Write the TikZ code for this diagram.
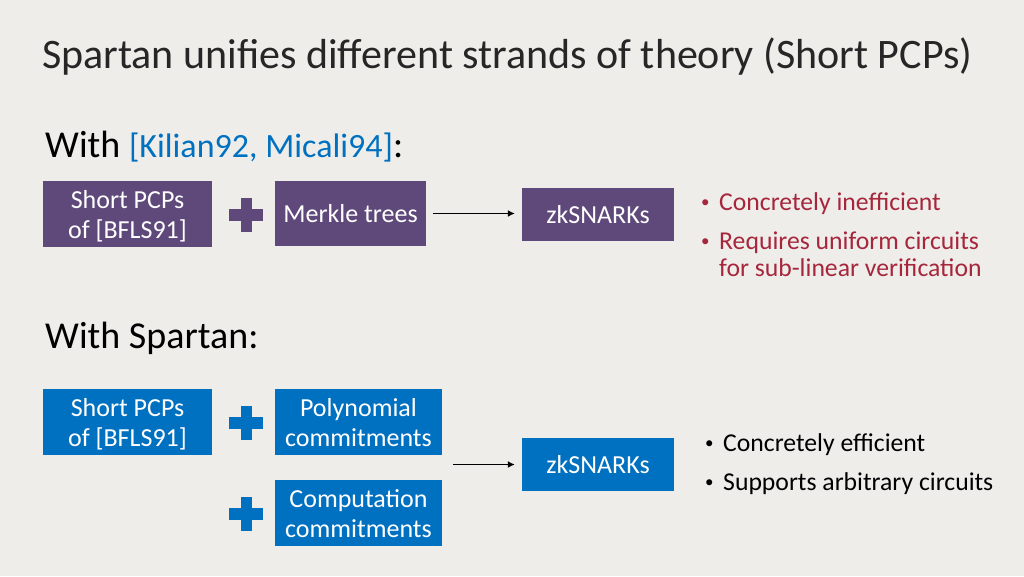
\documentclass[tikz,border=0pt]{standalone}
\usepackage{fontspec}
\setmainfont{Carlito}
\usetikzlibrary{arrows.meta}
\definecolor{bg}{HTML}{EFEDEA}
\definecolor{purp}{HTML}{5F497A}
\definecolor{blu}{HTML}{0070C0}
\definecolor{redt}{HTML}{A6263C}
\newcommand{\twoline}[2]{\raisebox{-3.5pt}[\height][\depth]{\begin{tabular}{@{}c@{}}#1\\#2\end{tabular}}}
\newcommand{\bulitem}[1]{\makebox[18pt][l]{\fontsize{17}{17}\selectfont\raisebox{2.5pt}{•}}#1}
\begin{document}
\begin{tikzpicture}[x=1pt,y=-1pt,
  box/.style={inner sep=0pt, align=center, text=white, font=\fontsize{26}{30}\selectfont},
  pbox/.style={box, fill=purp},
  bbox/.style={box, fill=blu},
  arr/.style={line width=1.8pt, -{Latex[length=7pt,width=7pt]}},
  bul/.style={anchor=base west, inner sep=0pt, font=\fontsize{25.7}{30}\selectfont},
  plus/.pic={\fill[pic actions] (-17,-6) rectangle (17,6); \fill[pic actions] (-5.5,-17) rectangle (5.5,17);}
]
\fill[bg] (0,0) rectangle (1024,576);
\useasboundingbox (0,0) rectangle (1024,576);
% title
\node[anchor=base west, inner sep=0pt, font=\fontsize{42}{50}\selectfont, text=black!85] (title) at (42,68) {Spartan unifies different strands of theory (Short PCPs)};
\node[anchor=base west, inner sep=0pt, font=\fontsize{38}{44}\selectfont] (with1) at (45,157) {With {\fontsize{34}{40}\selectfont\textcolor{blu}{[Kilian92, Micali94]}}:};
\node[anchor=base west, inner sep=0pt, font=\fontsize{38}{44}\selectfont] (with2) at (45,348) {With Spartan:};
% purple row
\node[pbox, minimum width=169pt, minimum height=66pt] (p1) at (127.5,214) {\twoline{Short PCPs}{of [BFLS91]}};
\pic[fill=purp] at (246,215) {plus};
\node[pbox, minimum width=151pt, minimum height=65pt] (p2) at (350.5,213.5) {Merkle trees};
\node[pbox, minimum width=152pt, minimum height=53pt] (zk1) at (598,214.5) {zkSNARKs};
\draw[arr, shorten <=7pt, shorten >=7pt] (p2.east) -- (zk1.west |- p2.east);
\node[bul, text=redt] (r1) at (701,210) {\bulitem{Concretely inefficient}};
\node[bul, text=redt] (r2) at (701,249) {\bulitem{Requires uniform circuits}};
\node[bul, text=redt] (r3) at (719,276) {for sub-linear verification};
% blue rows
\node[bbox, minimum width=169pt, minimum height=66pt] (b1) at (127.5,422) {\twoline{Short PCPs}{of [BFLS91]}};
\pic[fill=blu] at (246,423) {plus};
\node[bbox, minimum width=167pt, minimum height=66pt] (b2) at (358.5,422) {\twoline{Polynomial}{commitments}};
\pic[fill=blu] at (246,514) {plus};
\node[bbox, minimum width=167pt, minimum height=66pt] (b3) at (358.5,513) {\twoline{Computation}{commitments}};
\node[bbox, minimum width=152pt, minimum height=53pt] (zk2) at (598,464.5) {zkSNARKs};
\coordinate (bs) at (453,464.5);
\draw[arr, shorten >=7pt] (bs) -- (zk2.west);
\node[bul] (k1) at (705,451) {\bulitem{Concretely efficient}};
\node[bul] (k2) at (705,490) {\bulitem{Supports arbitrary circuits}};
\end{tikzpicture}
\end{document}
